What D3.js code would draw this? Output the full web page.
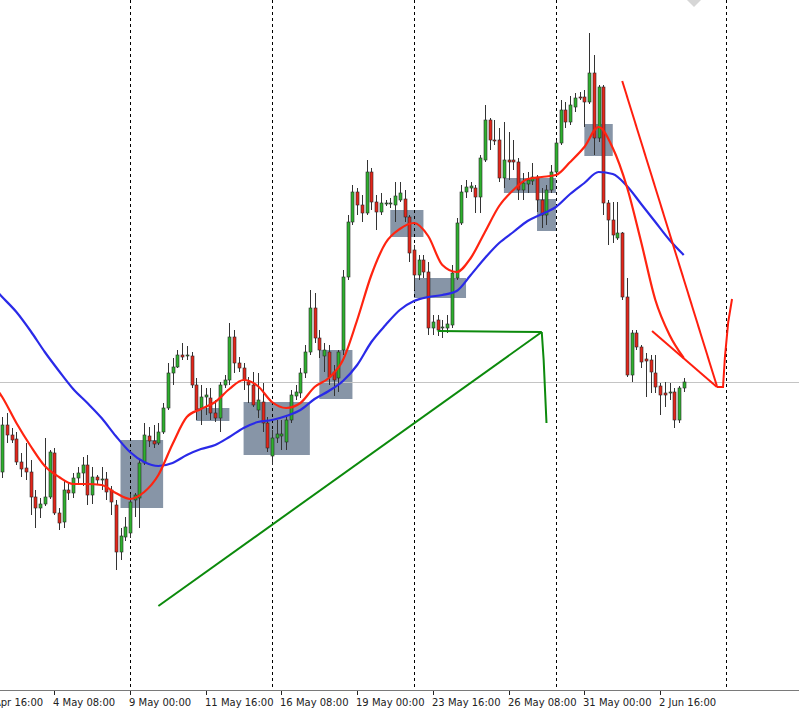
<!DOCTYPE html>
<html><head><meta charset="utf-8">
<script src="https://cdn.jsdelivr.net/npm/d3@7/dist/d3.min.js"></script>
<style>html,body{margin:0;padding:0;background:#fff;overflow:hidden}</style>
</head><body><svg id="c" width="799" height="713"></svg>
<script>
// ---- Data (H4 candles; index 27 = 9 May 00:00) ----
const opens=[1.4528,1.4575,1.4565,1.4561,1.4538,1.4532,1.4528,1.4503,1.4492,1.4496,1.4503,1.4547,1.4487,1.4478,1.4510,1.4507,1.4522,1.4527,1.4535,1.4505,1.4523,1.4520,1.4521,1.4510,1.4495,1.4448,1.4463,1.4467,1.4500,1.4502,
1.4537,1.4564,1.4559,1.4557,1.4568,1.4592,1.4627,1.4633,1.4645,1.4644,1.4644,1.4615,1.4592,1.4603,1.4602,1.4587,1.4582,1.4615,1.4620,1.4663,1.4637,1.4632,1.4618,1.4615,1.4590,1.4598,1.4577,1.4544,1.4562,1.4564,
1.4558,1.4580,1.4604,1.4607,1.4627,1.4648,1.4692,1.4662,1.4644,1.4648,1.4628,1.4622,1.4650,1.4723,1.4778,1.4808,1.4795,1.4787,1.4828,1.4798,1.4788,1.4796,1.4796,1.4795,1.4800,1.4801,1.4783,1.4750,1.4725,1.4740,
1.4728,1.4672,1.4680,1.4672,1.4672,1.4675,1.4722,1.4777,1.4808,1.4812,1.4812,1.4803,1.4840,1.4880,1.4860,1.4860,1.4822,1.4840,1.4840,1.4838,1.4810,1.4816,1.4819,1.4823,1.4800,1.4785,1.4810,1.4828,1.4857,1.4890,
1.4878,1.4893,1.4903,1.4903,1.4898,1.4927,1.4862,1.4913,1.4797,1.4780,1.4762,1.4767,1.4703,1.4625,1.4667,1.4653,1.4641,1.4640,1.4627,1.4614,1.4607,1.4607,1.4608,1.4580,1.4612];
const highs=[1.4583,1.4587,1.4572,1.4568,1.4547,1.4557,1.4540,1.4510,1.4502,1.4562,1.4550,1.4552,1.4492,1.4519,1.4518,1.4527,1.4533,1.4543,1.4545,1.4533,1.4525,1.4533,1.4528,1.4514,1.4500,1.4472,1.4483,1.4506,1.4507,1.4540,
1.4577,1.4573,1.4575,1.4577,1.4597,1.4637,1.4642,1.4650,1.4657,1.4654,1.4648,1.4622,1.4615,1.4612,1.4612,1.4600,1.4618,1.4625,1.4677,1.4670,1.4643,1.4637,1.4623,1.4628,1.4627,1.4617,1.4583,1.4570,1.4580,1.4580,
1.4583,1.4610,1.4615,1.4632,1.4655,1.4710,1.4707,1.4670,1.4657,1.4655,1.4635,1.4650,1.4730,1.4785,1.4815,1.4812,1.4805,1.4840,1.4832,1.4805,1.4807,1.4800,1.4802,1.4818,1.4818,1.4810,1.4785,1.4755,1.4745,1.4745,
1.4738,1.4685,1.4685,1.4680,1.4685,1.4735,1.4782,1.4815,1.4820,1.4818,1.4815,1.4845,1.4895,1.4882,1.4880,1.4872,1.4878,1.4868,1.4860,1.4842,1.4827,1.4828,1.4837,1.4825,1.4812,1.4815,1.4835,1.4860,1.4900,1.4898,
1.4904,1.4907,1.4908,1.4910,1.4967,1.4945,1.4915,1.4915,1.4800,1.4798,1.4798,1.4768,1.4722,1.4670,1.4670,1.4655,1.4647,1.4645,1.4645,1.4617,1.4618,1.4617,1.4612,1.4614,1.4622];
const lows=[1.4522,1.4557,1.4557,1.4535,1.4523,1.4520,1.4485,1.4472,1.4482,1.4494,1.4501,1.4485,1.4470,1.4472,1.4500,1.4502,1.4516,1.4514,1.4495,1.4496,1.4515,1.4510,1.4500,1.4485,1.4430,1.4440,1.4459,1.4462,1.4483,1.4472,
1.4535,1.4553,1.4552,1.4555,1.4566,1.4590,1.4615,1.4632,1.4640,1.4640,1.4612,1.4580,1.4575,1.4585,1.4580,1.4578,1.4568,1.4612,1.4615,1.4627,1.4628,1.4610,1.4597,1.4593,1.4582,1.4568,1.4548,1.4535,1.4557,1.4550,
1.4550,1.4577,1.4600,1.4602,1.4622,1.4645,1.4657,1.4642,1.4628,1.4615,1.4604,1.4608,1.4645,1.4720,1.4775,1.4785,1.4778,1.4785,1.4790,1.4770,1.4785,1.4794,1.4792,1.4778,1.4798,1.4778,1.4738,1.4710,1.4720,1.4722,
1.4665,1.4665,1.4664,1.4662,1.4667,1.4672,1.4720,1.4775,1.4802,1.4808,1.4787,1.4787,1.4838,1.4850,1.4855,1.4818,1.4812,1.4820,1.4830,1.4800,1.4800,1.4807,1.4815,1.4788,1.4772,1.4775,1.4807,1.4825,1.4855,1.4872,
1.4875,1.4888,1.4900,1.4873,1.4896,1.4845,1.4858,1.4785,1.4755,1.4757,1.4760,1.4700,1.4623,1.4618,1.4650,1.4632,1.4603,1.4607,1.4607,1.4585,1.4593,1.4600,1.4572,1.4577,1.4608];
const closes=[1.4575,1.4565,1.4560,1.4538,1.4531,1.4528,1.4503,1.4492,1.4496,1.4503,1.4548,1.4487,1.4477,1.4510,1.4507,1.4522,1.4527,1.4535,1.4505,1.4523,1.4520,1.4521,1.4508,1.4498,1.4448,1.4464,1.4473,1.4498,1.4505,1.4537,
1.4565,1.4559,1.4556,1.4568,1.4592,1.4627,1.4633,1.4645,1.4643,1.4645,1.4615,1.4590,1.4603,1.4605,1.4587,1.4582,1.4615,1.4620,1.4663,1.4637,1.4632,1.4620,1.4615,1.4595,1.4600,1.4577,1.4552,1.4562,1.4566,1.4566,
1.4580,1.4605,1.4608,1.4627,1.4648,1.4692,1.4662,1.4650,1.4650,1.4623,1.4620,1.4648,1.4723,1.4778,1.4808,1.4795,1.4787,1.4828,1.4798,1.4788,1.4797,1.4797,1.4797,1.4804,1.4807,1.4783,1.4747,1.4725,1.4740,1.4728,
1.4672,1.4678,1.4670,1.4673,1.4676,1.4727,1.4777,1.4808,1.4813,1.4814,1.4803,1.4842,1.4880,1.4860,1.4859,1.4822,1.4840,1.4838,1.4838,1.4810,1.4817,1.4820,1.4823,1.4800,1.4785,1.4810,1.4828,1.4857,1.4890,1.4878,
1.4895,1.4902,1.4902,1.4898,1.4927,1.4862,1.4913,1.4797,1.4780,1.4765,1.4767,1.4703,1.4625,1.4667,1.4653,1.4638,1.4639,1.4628,1.4613,1.4605,1.4605,1.4608,1.4580,1.4612,1.4618];

// moving averages, read every 3 bars starting at bar -3
const maStart=-3, maStep=3;
const fastMA=[1.4622,1.4603,1.4577,1.4554,1.4534,1.4523,1.4516,1.4516,1.4515,1.4507,1.4501,1.4508,1.4525,1.4556,1.4583,1.4591,1.4598,1.4611,1.4620,1.4614,1.4598,1.4592,1.4597,1.4613,1.4622,1.4640,1.4680,1.4725,1.4757,1.4771,1.4777,1.4764,1.4735,1.4728,1.4742,1.4768,1.4794,1.4810,1.4821,1.4823,1.4825,1.4838,1.4853,1.4873,1.4852,1.4813,1.4758,1.4700,1.4665,1.4642];
const slowMA=[1.4718,1.4703,1.4688,1.4669,1.4648,1.4629,1.4611,1.4597,1.4582,1.4564,1.4548,1.4538,1.4534,1.4537,1.4545,1.4551,1.4555,1.4563,1.4572,1.4578,1.4580,1.4584,1.4590,1.4601,1.4609,1.4619,1.4635,1.4658,1.4675,1.4690,1.4699,1.4703,1.4705,1.4709,1.4725,1.4742,1.4757,1.4768,1.4779,1.4786,1.4793,1.4806,1.4817,1.4828,1.4826,1.4814,1.4796,1.4778,1.4760,1.4745];

// axis labels
const tickIdx=[-5,11,27,43,59,75,91,107,123,139];
const tickLabels=["29 Apr 16:00","4 May 08:00","9 May 00:00","11 May 16:00","16 May 08:00","19 May 00:00","23 May 16:00","26 May 08:00","31 May 00:00","2 Jun 16:00"];
const separatorIdx=[27,57,87,117,153];
const bidPrice=1.4618;

// drawn objects
const zoneStart=[25,41,51,67,82,87,106,113,123];
const zoneEnd=[34,48,65,74,89,98,117,117,129];
const zoneTop=[1.4560,1.4592,1.4598,1.4650,1.4790,1.4722,1.4822,1.4801,1.4876];
const zoneBottom=[1.4492,1.4579,1.4545,1.4601,1.4763,1.4702,1.4807,1.4769,1.4844];
const greenLines=[
  [[92,1.4669],[114,1.4668]],
  [[33,1.4394],[114,1.4668]],
  [[114,1.4668],[114.4,1.4640],[115,1.4577]]
];
const redLines=[
  [[131,1.4919],[151,1.4614]],
  [[137.3,1.4669],[151,1.4613]],
  [[151,1.4613],[152.3,1.4613],[152.7,1.4643],[153.4,1.4678],[154.2,1.4701]]
];

// ---- Drawing ----
const W=799,H=713,axisY=690;
const svg=d3.select("#c");
const x=d3.scaleLinear().domain([0,144]).range([2.2,683.75]);
const y=d3.scaleLinear().domain([1.4287,1.5]).range([713,0]);

svg.append("defs").append("clipPath").attr("id","plot").append("rect").attr("x",0).attr("y",0).attr("width",W).attr("height",axisY);
const g=svg.append("g").attr("clip-path","url(#plot)");

// zones
g.selectAll("rect.zone").data(zoneStart).join("rect").attr("class","zone")
  .attr("x",(d,i)=>x(d)).attr("width",(d,i)=>x(zoneEnd[i])-x(d))
  .attr("y",(d,i)=>y(zoneTop[i])).attr("height",(d,i)=>y(zoneBottom[i])-y(zoneTop[i]))
  .attr("fill","#8795a7");

// bid line
g.append("line").attr("x1",0).attr("x2",W).attr("y1",Math.round(y(bidPrice))+0.5).attr("y2",Math.round(y(bidPrice))+0.5)
  .attr("stroke","#c4c4c4").attr("stroke-width",1);

// separators
g.selectAll("line.sep").data(separatorIdx).join("line").attr("class","sep")
  .attr("x1",d=>Math.round(x(d))+0.5).attr("x2",d=>Math.round(x(d))+0.5)
  .attr("y1",0).attr("y2",axisY).attr("stroke","#000").attr("stroke-width",1).attr("stroke-dasharray","3,3");

// candles
const idx=d3.range(opens.length);
const cg=g.append("g");
cg.selectAll("line.wick").data(idx).join("line").attr("class","wick")
  .attr("x1",i=>Math.round(x(i))+0.5).attr("x2",i=>Math.round(x(i))+0.5)
  .attr("y1",i=>Math.round(y(highs[i]))).attr("y2",i=>Math.round(y(lows[i])))
  .attr("stroke","#333").attr("stroke-width",1);
cg.selectAll("rect.body").data(idx).join("rect").attr("class","body")
  .attr("x",i=>Math.round(x(i))-1).attr("width",3)
  .attr("y",i=>Math.round(y(Math.max(opens[i],closes[i]))))
  .attr("height",i=>Math.max(1,Math.round(Math.abs(y(opens[i])-y(closes[i])))))
  .attr("fill",i=>closes[i]>=opens[i]?"#2eb02e":"#e3261a")
  .attr("stroke","#2a2a2a").attr("stroke-width",0.6);

// moving averages
const maLine=vals=>d3.line().x((v,j)=>x(maStart+j*maStep)).y(v=>y(v)).curve(d3.curveMonotoneX)(vals);
g.append("path").attr("d",maLine(slowMA)).attr("fill","none").attr("stroke","#2a2ae8").attr("stroke-width",2.2);
g.append("path").attr("d",maLine(fastMA)).attr("fill","none").attr("stroke","#ff2410").attr("stroke-width",2.2);

// trend lines
const tl=d3.line().x(d=>x(d[0])).y(d=>y(d[1]));
g.selectAll("path.gl").data(greenLines).join("path").attr("class","gl").attr("d",tl)
  .attr("fill","none").attr("stroke","#0c8a0c").attr("stroke-width",2);
g.selectAll("path.rl").data(redLines).join("path").attr("class","rl").attr("d",tl)
  .attr("fill","none").attr("stroke","#ff1e0e").attr("stroke-width",2);

// chart-shift marker
svg.append("path").attr("d","M687,0L701,0L694,7Z").attr("fill","#d6d6d6");

// time axis
svg.append("line").attr("x1",0).attr("x2",W).attr("y1",axisY+0.5).attr("y2",axisY+0.5).attr("stroke","#7a7a7a");
svg.selectAll("line.tick").data(tickIdx).join("line").attr("class","tick")
  .attr("x1",d=>Math.round(x(d))+0.5).attr("x2",d=>Math.round(x(d))+0.5)
  .attr("y1",axisY+1).attr("y2",axisY+5).attr("stroke","#222");
svg.selectAll("text.tl").data(tickIdx).join("text").attr("class","tl")
  .attr("x",d=>Math.round(x(d))-1).attr("y",706)
  .attr("font-family","DejaVu Sans, Verdana, sans-serif").attr("font-size","10px").attr("fill","#222")
  .text((d,i)=>tickLabels[i]);
</script></body></html>
